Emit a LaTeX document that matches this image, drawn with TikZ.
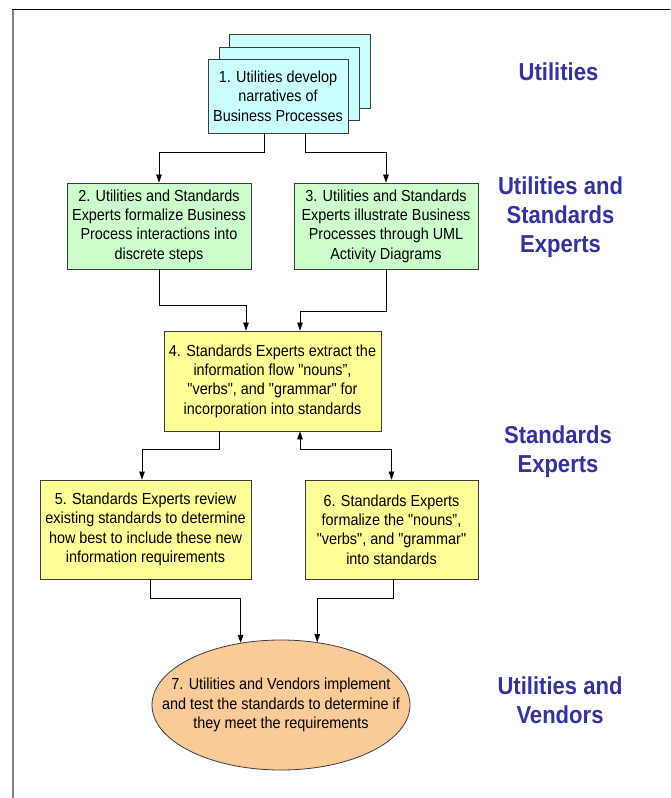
\documentclass[tikz,border=0pt]{standalone}
\usepackage{fontspec}
\setmainfont{Liberation Sans}[FakeStretch=0.9, Ligatures=TeXOff]
\usetikzlibrary{arrows.meta,shapes.geometric,calc}
\definecolor{lblue}{RGB}{51,51,153}
\definecolor{ccyan}{RGB}{204,255,255}
\definecolor{cgreen}{RGB}{204,255,204}
\definecolor{cyellow}{RGB}{255,255,153}
\definecolor{cpeach}{RGB}{250,202,152}
\definecolor{cborder}{RGB}{60,60,60}
\begin{document}
\begin{tikzpicture}[x=1pt,y=-1pt,
  >={Triangle[length=8pt,width=5.5pt]},
  box/.style={draw=cborder, line width=0.8pt, align=center, inner sep=0pt,
    font=\fontsize{16}{19.3}\selectfont},
  txt/.style={align=center, inner sep=0pt, font=\fontsize{16}{19.3}\selectfont},
  arr/.style={draw=black, line width=0.7pt, ->},
  lane/.style={text=lblue, align=center, inner sep=0pt,
    font=\fontsize{24.5}{29}\selectfont\bfseries}]
\useasboundingbox (0,0) rectangle (670,798);
\fill[white] (0,0) rectangle (670,798);
\draw[gray, line width=1.3pt] (13,9.5) -- (13,798);
\draw[black, line width=1pt] (12.4,9.5) -- (670,9.5);

% step 1 (stacked)
\node[box, fill=ccyan, minimum width=141, minimum height=74] (b1c) at (299.5,71) {};
\node[box, fill=ccyan, minimum width=140, minimum height=73] (b1b) at (289,83.5) {};
\node[box, fill=ccyan, minimum width=140, minimum height=74] (b1) at (278,96)
  {1. Utilities develop\\narratives of\\Business Processes};

\node[box, fill=cgreen, minimum width=184, minimum height=86] (b2) at (159,226)
  {2. Utilities and Standards\\Experts formalize Business\\Process interactions into\\discrete steps};
\node[box, fill=cgreen, minimum width=184, minimum height=86] (b3) at (386,226)
  {3. Utilities and Standards\\Experts illustrate Business\\Processes through UML\\Activity Diagrams};

\node[box, fill=cyellow, minimum width=217, minimum height=100] (b4) at (272.5,381)
  {4. Standards Experts extract the\\information flow "nouns”,\\"verbs", and "grammar" for\\incorporation into standards};

\node[box, fill=cyellow, minimum width=211, minimum height=99] (b5) at (145.5,529.5)
  {5. Standards Experts review\\existing standards to determine\\how best to include these new\\information requirements};
\node[box, fill=cyellow, minimum width=173, minimum height=99] (b6) at (391.5,529.5)
  {6. Standards Experts\\formalize the "nouns”,\\"verbs", and "grammar"\\into standards};

\node[draw=cborder, line width=0.8pt, ellipse, fill=cpeach, inner sep=0pt,
  minimum width=258, minimum height=130] (e7) at (281,705) {};
\node[txt] (t7) at (e7.center)
  {7. Utilities and Vendors implement\\and test the standards to determine if\\they meet the requirements};

% connectors
\draw[arr] ([xshift=-14pt]b1.south) -- ++(0,19) -| (b2.north);
\draw[arr] ([xshift=27pt]b1.south) -- ++(0,19) -| (b3.north);
\draw[arr] (b2.south) -- ++(0,36) -| ([xshift=-26.5pt]b4.north);
\draw[arr] (b3.south) -- ++(0,42) -| ([xshift=27.5pt]b4.north);
\draw[arr] ([xshift=-53.5pt]b4.south) -- ++(0,18) -| ([xshift=-3.5pt]b5.north);
\draw[arr, <->] ([xshift=27.5pt]b4.south) -- ++(0,18) -| (b6.north);
\draw[arr] ([xshift=4.5pt]b5.south) -- ++(0,19) -| (e7.123.6);
\draw[arr] ([xshift=1.5pt]b6.south) -- ++(0,19) -| (e7.60);

% lane labels
\node[lane] (l1) at (558.5,72) {Utilities};
\node[lane] (l2) at (560.5,217) {Utilities and\\Standards\\Experts};
\node[lane] (l3) at (558,452) {Standards\\Experts};
\node[lane] (l4) at (560,700) {Utilities and\\Vendors};
\end{tikzpicture}
\end{document}
